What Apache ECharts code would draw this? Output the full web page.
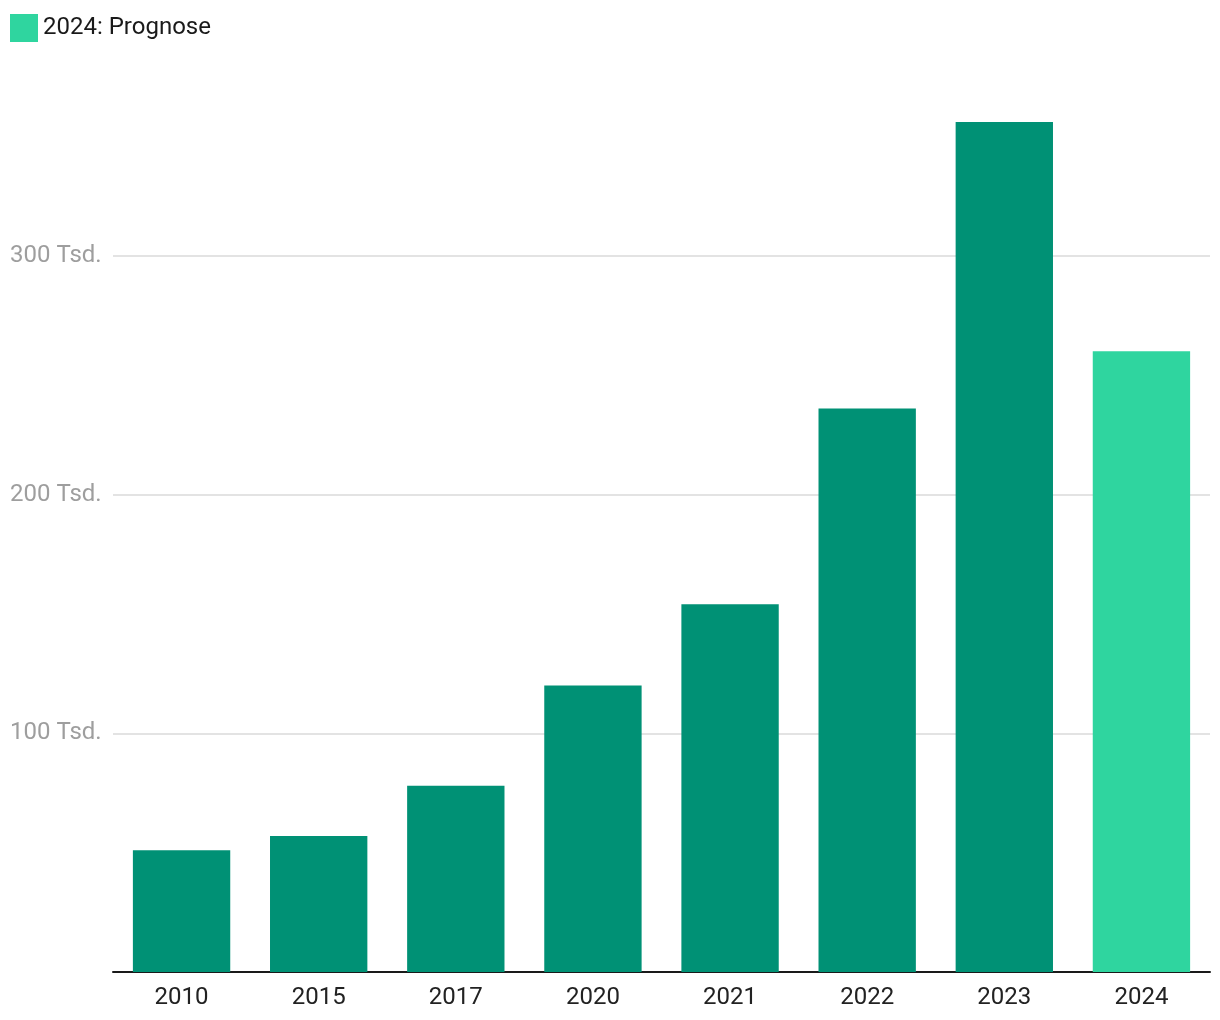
<!DOCTYPE html>
<html>
<head>
<meta charset="utf-8">
<script src="https://cdn.jsdelivr.net/npm/echarts@6/dist/echarts.min.js"></script>
<style>html,body{margin:0;padding:0;background:#fff}#c{width:1220px;height:1020px}</style>
</head>
<body>
<div id="c"></div>
<script>
const categories = ['2010','2015','2017','2020','2021','2022','2023','2024'];
const values = [51000, 57000, 78000, 120000, 154000, 236000, 356000, 260000];
const isForecast = [false,false,false,false,false,false,false,true];
const forecastName = '2024: Prognose';
const yTicks = [0, 100000, 200000, 300000, 400000];

const actualData = values.map((v,i)=> isForecast[i] ? '-' : v);
const forecastData = values.map((v,i)=> isForecast[i] ? v : '-');

const chart = echarts.init(document.getElementById('c'));
chart.setOption({
  animation:false,
  textStyle:{fontFamily:'Roboto'},
  legend:{
    data:[forecastName], left:10, top:14, padding:0,
    itemWidth:28, itemHeight:28, icon:'rect',
    textStyle:{fontSize:24, color:'#1a1a1a', fontFamily:'Roboto'}
  },
  grid:{left:113, right:10, top:17, bottom:48, containLabel:false},
  xAxis:{
    type:'category', data:categories,
    axisLine:{lineStyle:{color:'#1a1a1a', width:2}},
    axisTick:{show:false},
    axisLabel:{fontSize:24, color:'#222', margin:14, fontFamily:'Roboto'}
  },
  yAxis:{
    type:'value', min:yTicks[0], max:yTicks[yTicks.length-1], interval:100000,
    axisLine:{show:false}, axisTick:{show:false},
    splitLine:{show:true, showMaxLine:false, lineStyle:{color:'#e3e3e3', width:2}},
    axisLabel:{
      showMaxLabel:false, showMinLabel:false,
      fontSize:24, color:'#9e9e9e', align:'left', margin:103, fontFamily:'Roboto',
      padding:[5,0,0,0],
      formatter: v => v === 0 ? '' : (v/1000) + ' Tsd.'
    }
  },
  series:[
    {name:'Ist', type:'bar', stack:'a', data:actualData, barCategoryGap:'29%',
     itemStyle:{color:'#009175'}},
    {name:forecastName, type:'bar', stack:'a', data:forecastData, barCategoryGap:'29%',
     itemStyle:{color:'#2fd59f'}}
  ]
});
</script>
</body>
</html>
